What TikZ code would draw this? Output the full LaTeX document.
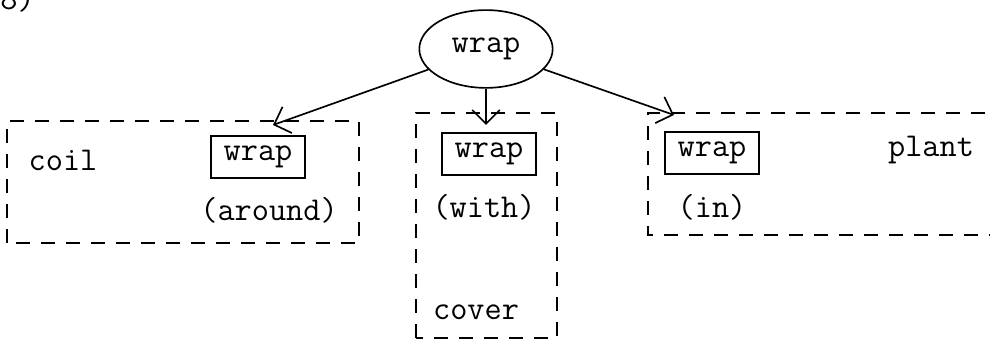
\documentclass[tikz,border=0pt]{standalone}
\usetikzlibrary{arrows.meta,shapes.geometric}
\begin{document}
\begin{tikzpicture}[x=0.36pt,y=0.36pt,font=\fontsize{12}{14}\ttfamily,
  frame/.style={draw, line width=0.7pt, dash pattern=on 5pt off 4pt},
  wordbox/.style={draw, line width=0.6pt, minimum width=34pt, minimum height=15pt, inner sep=1pt},
  word/.style={inner sep=1pt},
  arr/.style={-{Straight Barb[length=5pt,width=10pt]}, line width=0.6pt}]
\clip (0,0) rectangle (990,340);
\node [word, anchor=base east] (fig) at (38,330) {(8)};
\node [ellipse, draw, line width=0.6pt, minimum width=48pt, minimum height=28pt] (top) at (486,291) {wrap};
% left frame
\draw [frame] (7,97) rectangle (359,219);
\node [word] (coil) at (63,180) {coil};
\node [wordbox] (lwrap) at (258,183) {wrap};
\node [word] (around) at (269,130) {(around)};
% middle frame
\draw [frame] (416,2) rectangle (557,227);
\node [wordbox] (mwrap) at (489,186) {wrap};
\node [word] (with) at (484,133) {(with)};
\node [word] (cover) at (476,28) {cover};
% right frame
\draw [frame] (1010,227) -- (648,227) -- (648,105) -- (1010,105);
\node [wordbox] (rwrap) at (712,187) {wrap};
\node [word] (plant) at (931,190) {plant};
\node [word] (in) at (712,133) {(in)};
% arrows
\coordinate (ltip) at (273,215);
\coordinate (mtip) at (486,215);
\coordinate (rtip) at (674,225);
\draw [arr] (top) -- (ltip);
\draw [arr] (top) -- (mtip);
\draw [arr] (top) -- (rtip);
\end{tikzpicture}
\end{document}
